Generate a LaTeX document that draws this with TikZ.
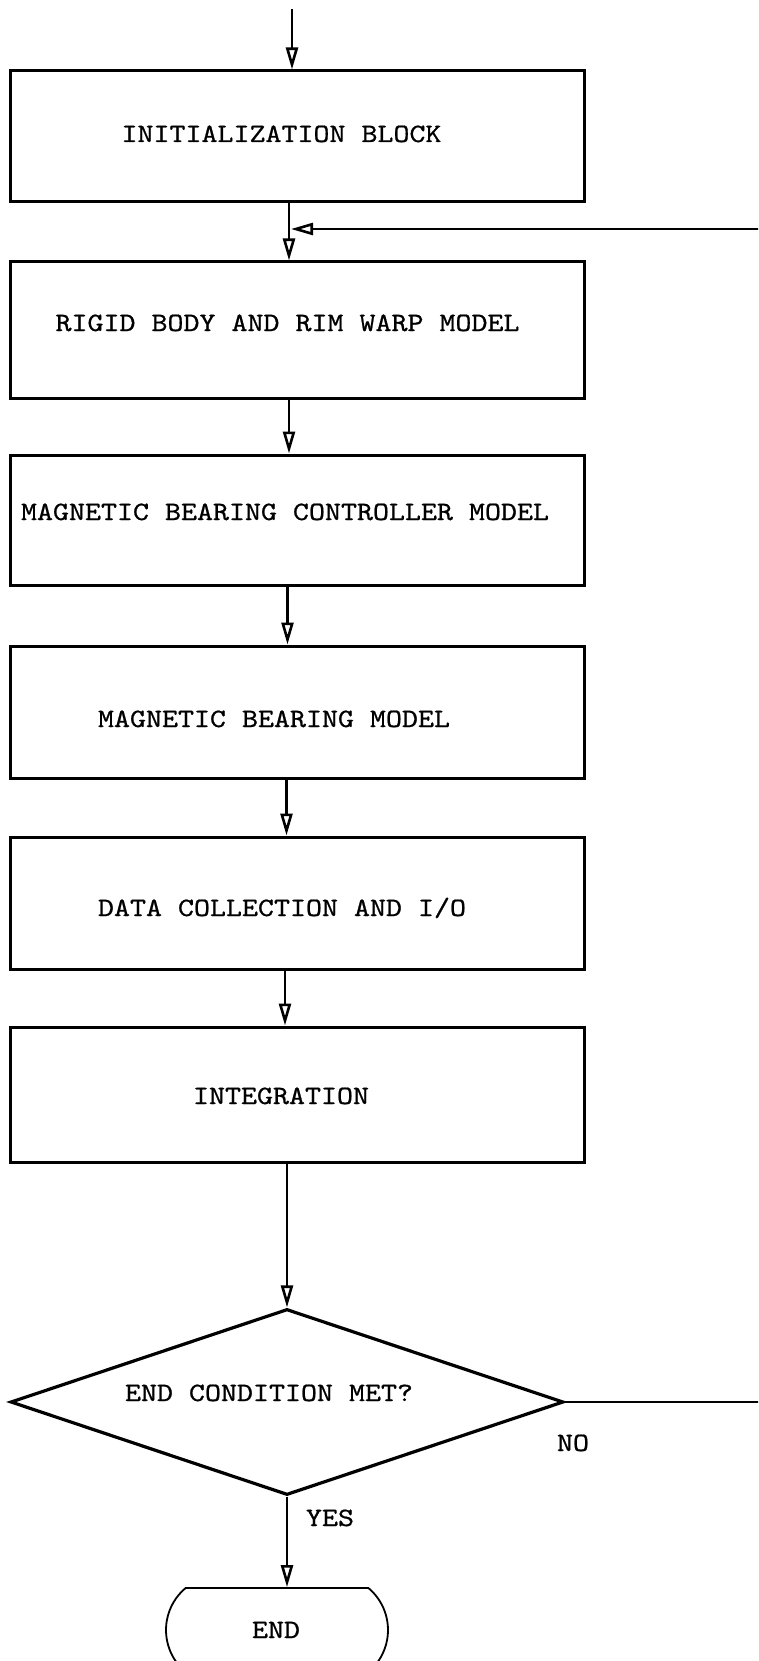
\documentclass[tikz,border=0pt]{standalone}
\usepackage{fontspec}
\usepackage{graphicx}
\newfontfamily\tw{lmmono10-regular.otf}[FakeBold=0.7]
\usetikzlibrary{arrows.meta,shapes.geometric,shapes.misc}
\newcommand\wide[1]{\scalebox{1.15}[1]{#1}}
\begin{document}
\begin{tikzpicture}[x=1pt,y=-1pt,
  box/.style={draw,line width=3pt,minimum width=574pt,inner sep=0pt},
  lbl/.style={font=\tw\fontsize{26.5}{30}\selectfont,inner sep=0pt,anchor=center,text height=16pt,text depth=0pt},
  arr/.style={line width=2.6pt,-{Triangle[open,length=22pt,width=12pt]}},
  ln/.style={line width=2.6pt}]
\useasboundingbox (0,0) rectangle (758,1661);
\clip (0,0) rectangle (758,1661);
\fill[white] (0,0) rectangle (758,1661);

% boxes
\node[box,minimum height=131pt] (b1) at (297,136.5) {};
\node[box,minimum height=136pt] (b2) at (297,330) {};
\node[box,minimum height=130pt] (b3) at (297,520) {};
\node[box,minimum height=132pt] (b4) at (297,712) {};
\node[box,minimum height=132pt] (b5) at (297,903) {};
\node[box,minimum height=135pt] (b6) at (297,1094.5) {};
\node[draw,diamond,line width=3.2pt,minimum width=553pt,minimum height=186pt,inner sep=0pt,aspect=2.97] (d) at (287,1402) {};
\node[draw,rounded rectangle,rounded rectangle arc length=100,line width=1.8pt,minimum width=222pt,minimum height=84pt,inner sep=0pt] (e) at (277,1630) {};

% labels
\node[lbl] (t1) at (281.5,134) {\wide{INITIALIZATION BLOCK}};
\node[lbl] (t2) at (287.5,323) {\wide{RIGID BODY AND RIM WARP MODEL}};
\node[lbl] (t3) at (285,512) {\wide{MAGNETIC BEARING CONTROLLER MODEL}};
\node[lbl] (t4) at (274,719) {\wide{MAGNETIC BEARING MODEL}};
\node[lbl] (t5) at (282,908) {\wide{DATA COLLECTION AND I/O}};
\node[lbl] (t6) at (281,1096) {\wide{INTEGRATION}};
\node[lbl] (t7) at (269,1393) {\wide{END CONDITION MET?}};
\node[lbl] (no) at (573,1443) {\wide{NO}};
\node[lbl] (yes) at (330,1518) {\wide{YES}};
\node[lbl] (tend) at (276,1630) {\wide{END}};

% connectors
\coordinate (start) at (292,9);
\coordinate (j) at (291,229);
\coordinate (nr) at (763,1402);
\coordinate (fr) at (763,229);
\draw[arr] (start) -- (start |- b1.north);
\draw[arr] ([xshift=-8pt]b1.south) -- ([xshift=-8pt]b2.north);
\draw[arr] (d.east) -- (nr) -- (fr) -- (j);
\draw[arr] ([xshift=-8pt]b2.south) -- ([xshift=-8pt]b3.north);
\draw[arr] ([xshift=-9.5pt]b3.south) -- ([xshift=-9.5pt]b4.north);
\draw[arr] ([xshift=-10.5pt]b4.south) -- ([xshift=-10.5pt]b5.north);
\draw[arr] ([xshift=-12pt]b5.south) -- ([xshift=-12pt]b6.north);
\draw[arr] ([xshift=-10pt]b6.south) -- (d.north);
\draw[arr] (d.south) -- (d.south |- e.north);
\end{tikzpicture}
\end{document}
